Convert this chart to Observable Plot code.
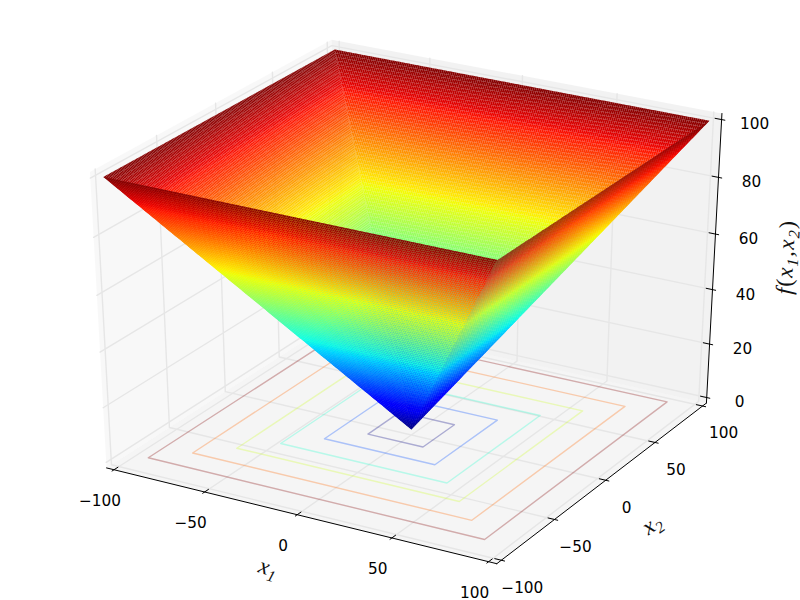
<!DOCTYPE html>
<html>
<head>
<meta charset="utf-8">
<style>html,body{margin:0;padding:0;background:#fff}svg{display:block}</style>
<script src="https://cdn.jsdelivr.net/npm/d3@7"></script>
<script src="https://cdn.jsdelivr.net/npm/@observablehq/plot@0.6"></script>
</head>
<body>
<div id="chart"></div>
<script>
// ---- data ----
const x1Ticks = [-100, -50, 0, 50, 100];
const x2Ticks = [-100, -50, 0, 50, 100];
const zTicks = [0, 20, 40, 60, 80, 100];
const x1TickLabels = ["\u2212100", "\u221250", "0", "50", "100"];
const x2TickLabels = ["\u2212100", "\u221250", "0", "50", "100"];
const zTickLabels = ["0", "20", "40", "60", "80", "100"];
const contourLevels = [15, 30, 45, 60, 75, 90];
// nested square levels of the surface (height = half width of the ring)
const surfaceLevels = [0,1,2,3,4,5,6,7,8,9,10,11,12,13,14,15,16,17,18,19,20,21,22,23,24,25,26,27,28,29,30,
  31,32,33,34,35,36,37,38,39,40,41,42,43,44,45,46,47,48,49,50,51,52,53,54,55,56,57,58,59,60,
  61,62,63,64,65,66,67,68,69,70,71,72,73,74,75,76,77,78,79,80,81,82,83,84,85,86,87,88,89,90,
  91,92,93,94,95,96,97,98,99,100];
const jetStops = [0, 11, 12.5, 34, 35, 37.5, 64, 65, 66, 89, 91, 100];
const jetColors = ["rgb(0,0,128)","rgb(0,0,255)","rgb(0,0,255)","rgb(0,219,255)","rgb(0,230,247)","rgb(20,255,226)",
  "rgb(238,255,8)","rgb(247,246,0)","rgb(255,236,0)","rgb(255,19,0)","rgb(232,0,0)","rgb(128,0,0)"];

// ---- matplotlib style 3D view ----
const elev = 30 * Math.PI / 180, azim = -60 * Math.PI / 180, dist = 10;
const lim = {x: [-100, 100], y: [-100, 100], z: [0, 100]};
const n = [Math.cos(azim) * Math.cos(elev), Math.sin(azim) * Math.cos(elev), Math.sin(elev)];
const ul = Math.hypot(n[1], n[0]);
const u = [-n[1] / ul, n[0] / ul, 0];
const v = [n[1]*u[2]-n[2]*u[1], n[2]*u[0]-n[0]*u[2], n[0]*u[1]-n[1]*u[0]];
function proj(x, y, z) {
  const q = [(x-lim.x[0])/(lim.x[1]-lim.x[0])-.5, (y-lim.y[0])/(lim.y[1]-lim.y[0])-.5, (z-lim.z[0])/(lim.z[1]-lim.z[0])-.5];
  const w = dist - (n[0]*q[0]+n[1]*q[1]+n[2]*q[2]);
  return [(u[0]*q[0]+u[1]*q[1]+u[2]*q[2])/w, (v[0]*q[0]+v[1]*q[1]+v[2]*q[2])/w];
}
const pad = {x: 200/48, y: 200/48, z: 100/48};
const X0 = lim.x[0]-pad.x, X1 = lim.x[1]+pad.x, Y0 = lim.y[0]-pad.y, Y1 = lim.y[1]+pad.y, Z0 = lim.z[0]-pad.z, Z1 = lim.z[1]+pad.z;
const tdx = 200/12;

let nextId = 0;
function path(points, extra = {}) {
  const id = nextId++;
  return points.map(([a, b, c]) => { const [px, py] = proj(a, b, c); return {px, py, id, ...extra}; });
}

// panes
const paneFloor = path([[X0,Y0,Z0],[X1,Y0,Z0],[X1,Y1,Z0],[X0,Y1,Z0]]);
const paneLeft = path([[X0,Y0,Z0],[X0,Y1,Z0],[X0,Y1,Z1],[X0,Y0,Z1]]);
const paneBack = path([[X0,Y1,Z0],[X1,Y1,Z0],[X1,Y1,Z1],[X0,Y1,Z1]]);

// grid lines
const grid = [
  ...x1Ticks.flatMap(t => path([[t,Y0,Z0],[t,Y1,Z0],[t,Y1,Z1]])),
  ...x2Ticks.flatMap(t => path([[X1,t,Z0],[X0,t,Z0],[X0,t,Z1]])),
  ...zTicks.flatMap(t => path([[X0,Y0,t],[X0,Y1,t],[X1,Y1,t]]))
];

// axis lines and tick marks
const axes = [
  ...path([[X0,Y0,Z0],[X1,Y0,Z0]]),
  ...path([[X1,Y0,Z0],[X1,Y1,Z0]]),
  ...path([[X1,Y1,Z0],[X1,Y1,Z1]]),
  ...x1Ticks.flatMap(t => path([[t,Y0-.1*tdx,Z0],[t,Y0+.2*tdx,Z0]])),
  ...x2Ticks.flatMap(t => path([[X1+.1*tdx,t,Z0],[X1-.2*tdx,t,Z0]])),
  ...zTicks.flatMap(t => path([[X1+.1*tdx,Y1,t],[X1-.2*tdx,Y1,t]]))
];

// contour squares on the floor, coloured over the contour levels' own range
const cMin = contourLevels[0], cMax = contourLevels[contourLevels.length-1];
const contours = contourLevels.flatMap(L => path(
  [[-L,-L,0],[L,-L,0],[L,L,0],[-L,L,0],[-L,-L,0]],
  {v: (L-cMin)/(cMax-cMin)*100}
));

// surface: rings of cells on each of the four faces, far faces first
const faces = [
  (t, L) => [t, L],   // x2 = +L
  (t, L) => [-L, t],  // x1 = -L
  (t, L) => [L, t],   // x1 = +L
  (t, L) => [t, -L]   // x2 = -L
];
const signedLevels = [...surfaceLevels.slice(1).reverse().map(d => -d), ...surfaceLevels];
const cells = [];
for (const face of faces) {
  for (let i = 0; i + 1 < surfaceLevels.length; i++) {
    const a = surfaceLevels[i], b = surfaceLevels[i+1], val = (a + b) / 2;
    const ts = signedLevels.filter(t => Math.abs(t) <= b);
    for (let j = 0; j + 1 < ts.length; j++) {
      const t0 = ts[j], t1 = ts[j+1];
      const ca = t => Math.max(-a, Math.min(a, t));
      const pts = [[ca(t0),a],[ca(t1),a],[t1,b],[t0,b]].map(([t,L]) => { const [x,y] = face(t,L); return [x,y,L]; });
      cells.push(...path(pts, {v: val}));
    }
  }
}

const tickLabelFont = {fontFamily: "'DejaVu Sans'", fontSize: 15.3, fill: "#000", textAnchor: "middle", lineAnchor: "middle"};
const mathFont = {fontFamily: "'Liberation Serif'", fill: "#111", textAnchor: "middle", lineAnchor: "middle", fontSize: 23, className: "math"};

const chart = Plot.plot({
  width: 800, height: 600, margin: 0,
  style: {background: "#fff", overflow: "visible"},
  x: {domain: [-.095, .09], range: [0, 800], axis: null},
  y: {domain: [-.095, .09], range: [600, 0], axis: null},
  color: {type: "linear", domain: jetStops, range: jetColors, interpolate: "rgb", clamp: true},
  marks: [
    Plot.line(paneFloor, {x:"px", y:"py", z:"id", fill:"#ececec", fillOpacity:.5, stroke:"none"}),
    Plot.line(paneLeft, {x:"px", y:"py", z:"id", fill:"#f2f2f2", fillOpacity:.5, stroke:"none"}),
    Plot.line(paneBack, {x:"px", y:"py", z:"id", fill:"#e6e6e6", fillOpacity:.5, stroke:"none"}),
    Plot.line(grid, {x:"px", y:"py", z:"id", stroke:"#e6e6e6", strokeWidth:1.4}),
    Plot.line(axes, {x:"px", y:"py", z:"id", stroke:"#000", strokeWidth:1}),
    Plot.line(contours, {x:"px", y:"py", z:"id", stroke:"v", strokeOpacity:.3, strokeWidth:1.4}),
    Plot.line(cells, {x:"px", y:"py", z:"id", fill:"v", stroke:"none"}),
    Plot.text(x1Ticks, {x: t => proj(t,Y0,Z0)[0], y: t => proj(t,Y0,Z0)[1], text: (t,i) => x1TickLabels[i], dx:-14, dy:31, ...tickLabelFont}),
    Plot.text(x2Ticks, {x: t => proj(X1,t,Z0)[0], y: t => proj(X1,t,Z0)[1], text: (t,i) => x2TickLabels[i], dx:21, dy:27.5, ...tickLabelFont}),
    Plot.text(zTicks, {x: t => proj(X1,Y1,t)[0], y: t => proj(X1,Y1,t)[1], text: (t,i) => zTickLabels[i], dx:33, dy:5, ...tickLabelFont}),
    Plot.text(["x1"], {x: () => proj(0,Y0,Z0)[0], y: () => proj(0,Y0,Z0)[1], dx:-29, dy:53, rotate:17, ...mathFont}),
    Plot.text(["x2"], {x: () => proj(X1,0,Z0)[0], y: () => proj(X1,0,Z0)[1], dx:46, dy:44, rotate:-35, ...mathFont}),
    Plot.text(["f(x1,x2)"], {x: () => proj(X1,Y1,50)[0], y: () => proj(X1,Y1,50)[1], dx:72, dy:-5, rotate:-87, ...mathFont})
  ]
});
// typeset the mathematical labels: italic letters, lowered subscripts, upright brackets
d3.select(chart).selectAll("g.math text, .math text").each(function() {
  const source = this.textContent;
  const el = d3.select(this).text(null).attr("letter-spacing", source.length > 2 ? 1.4 : 0);
  let lowered = false;
  for (const ch of source) {
    const isDigit = /[0-9]/.test(ch);
    const span = el.append("tspan").text(ch).attr("font-style", /[()]/.test(ch) ? "normal" : "italic");
    if (isDigit) { span.attr("font-size", 16).attr("dy", 5); lowered = true; }
    else if (lowered) { span.attr("dy", -5); lowered = false; }
  }
});
document.getElementById("chart").appendChild(chart);
</script>
</body>
</html>
